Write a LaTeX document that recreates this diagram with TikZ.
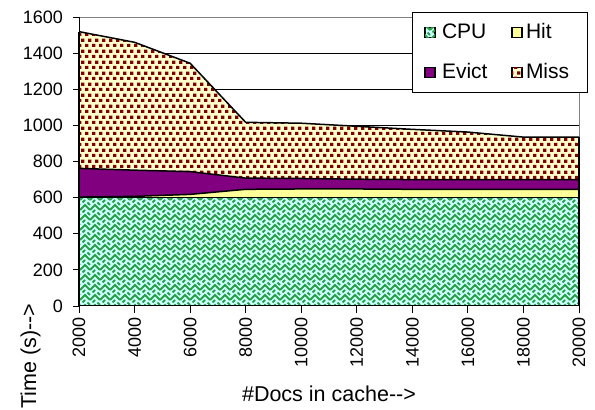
\documentclass[tikz,border=0pt]{standalone}
\usepackage{fontspec}
\setmainfont{Liberation Sans}
\usetikzlibrary{patterns}
\definecolor{cpubg}{RGB}{204,255,255}
\definecolor{cpugreen}{RGB}{40,160,70}
\definecolor{hitcol}{RGB}{255,255,153}
\definecolor{evictcol}{RGB}{128,0,128}
\definecolor{missbg}{RGB}{255,255,204}
\definecolor{missdot}{RGB}{128,0,0}
\definecolor{bordergray}{RGB}{128,128,128}
\pgfdeclarepatternformonly{missdots}{\pgfpointorigin}{\pgfpoint{6.5pt}{11pt}}{\pgfpoint{6.5pt}{11pt}}{%
  \pgfpathrectangle{\pgfpoint{0.1pt}{0.1pt}}{\pgfpoint{3.4pt}{3.4pt}}%
  \pgfpathrectangle{\pgfpoint{3.35pt}{5.6pt}}{\pgfpoint{3.4pt}{3.4pt}}%
  \pgfusepath{fill}}
\pgfdeclarepatternformonly{weave}{\pgfpoint{-1pt}{-1pt}}{\pgfpoint{11pt}{11pt}}{\pgfpoint{10pt}{10pt}}{%
  \pgfsetlinewidth{1.9pt}%
  \pgfpathmoveto{\pgfpoint{0pt}{0pt}}\pgfpathlineto{\pgfpoint{5pt}{5pt}}\pgfpathlineto{\pgfpoint{10pt}{0pt}}%
  \pgfpathmoveto{\pgfpoint{2.5pt}{7.5pt}}\pgfpathlineto{\pgfpoint{5pt}{10pt}}%
  \pgfpathmoveto{\pgfpoint{7.5pt}{7.5pt}}\pgfpathlineto{\pgfpoint{10pt}{5pt}}%
  \pgfusepath{stroke}}
\begin{document}
\begin{tikzpicture}[x=1pt,y=1pt,
  every node/.style={inner sep=0pt, outer sep=0pt},
  ticklab/.style={font=\fontsize{18}{20}\selectfont},
  axtitle/.style={font=\fontsize{21.5}{24}\selectfont},
  legtext/.style={font=\fontsize{21}{23}\selectfont, anchor=base west},
  bandline/.style={draw=black, line width=1.5pt, line join=round},
  swatch/.style={draw=black, line width=1.3pt, minimum size=10pt},
  cpufill/.style={fill=cpubg, postaction={pattern=weave, pattern color=cpugreen}},
  missfill/.style={fill=missbg, postaction={pattern=missdots, pattern color=missdot}},
]
\useasboundingbox (0,0) rectangle (595,410);
\fill[white] (0,0) rectangle (595,410);
\begin{scope}[shift={(23.444pt,104pt)}, x=27.7778pt, y=0.180625pt]
  % frame and grid
  \foreach \v in {200,400,...,1400} \draw[black, line width=0.7pt] (2,\v) -- (20,\v);
  \draw[bordergray, line width=1pt] (2,1600) -- (20,1600) -- (20,0);
  % CPU
  \path[cpufill] (2,0) -- (2,600) -- (4,600) -- (6,600) -- (8,600) -- (10,600) -- (12,600) -- (14,600) -- (16,600) -- (18,600) -- (20,600) -- (20,0) -- cycle;
  % Hit
  \path[fill=hitcol] (2,600) -- (2,603) -- (4,607) -- (6,618) -- (8,646) -- (10,648) -- (12,648) -- (14,646) -- (16,646) -- (18,646) -- (20,646) -- (20,600) -- cycle;
  % Evict
  \path[fill=evictcol] (2,603) -- (2,762) -- (4,752) -- (6,744) -- (8,708) -- (10,706) -- (12,702) -- (14,700) -- (16,700) -- (18,700) -- (20,700) -- (20,646) -- (18,646) -- (16,646) -- (14,646) -- (12,648) -- (10,648) -- (8,646) -- (6,618) -- (4,607) -- cycle;
  % Miss
  \path[missfill] (2,762) -- (2,1519) -- (4,1460) -- (6,1344) -- (8,1017) -- (10,1012) -- (12,995) -- (14,978) -- (16,963) -- (18,935) -- (20,935) -- (20,700) -- (18,700) -- (16,700) -- (14,700) -- (12,702) -- (10,706) -- (8,708) -- (6,744) -- (4,752) -- cycle;
  % outlines
  \draw[bandline] (2,600) -- (20,600);
  \draw[bandline] (2,603) -- (4,607) -- (6,618) -- (8,646) -- (10,648) -- (12,648) -- (14,646) -- (16,646) -- (18,646) -- (20,646);
  \draw[bandline] (2,762) -- (4,752) -- (6,744) -- (8,708) -- (10,706) -- (12,702) -- (14,700) -- (16,700) -- (18,700) -- (20,700);
  \draw[bandline] (2,1519) -- (4,1460) -- (6,1344) -- (8,1017) -- (10,1012) -- (12,995) -- (14,978) -- (16,963) -- (18,935) -- (20,935);
  \draw[bandline] (20,0) -- (20,935);
  \draw[bandline] (2,0) -- (2,1519);
  % axes
  \draw[black, line width=1pt] (2,0) -- (20,0);
  \draw[black, line width=1pt] (2,0) -- (2,1600);
  \foreach \v in {0,200,...,1600} {
    \draw[black, line width=0.8pt] (2,\v) -- ++(-6pt,0);
    \node[ticklab, anchor=east] (yl\v) at ([xshift=-16pt]2,\v) {\v};
  }
  \foreach \n in {2,4,...,20} {
    \draw[black, line width=0.8pt] (\n,0) -- ++(0,-7pt);
    \node[ticklab, rotate=90, anchor=east] (xl\n) at ([yshift=-11pt]\n,0) {\n000};
  }
\end{scope}
\node[axtitle, anchor=base] (xtitle) at (329,9) {\#Docs in cache{-}{-}>};
\node[axtitle, rotate=90, anchor=base] (ytitle) at (36,54) {Time (s){-}{-}>};
% legend
\node[draw=black, fill=white, line width=0.8pt, minimum width=175pt, minimum height=80pt, anchor=north west] (legend) at (412,398) {};
\node[swatch, cpufill] (swcpu) at (430,377.5) {};
\node[legtext] (tcpu) at (442,371) {CPU};
\node[swatch, fill=hitcol] (swhit) at (517,377.5) {};
\node[legtext] (thit) at (526,371) {Hit};
\node[swatch, fill=evictcol] (swevict) at (430,337.5) {};
\node[legtext] (tevict) at (442,331) {Evict};
\node[swatch, missfill] (swmiss) at (517,337.5) {};
\node[legtext] (tmiss) at (526,331) {Miss};
\end{tikzpicture}
\end{document}
